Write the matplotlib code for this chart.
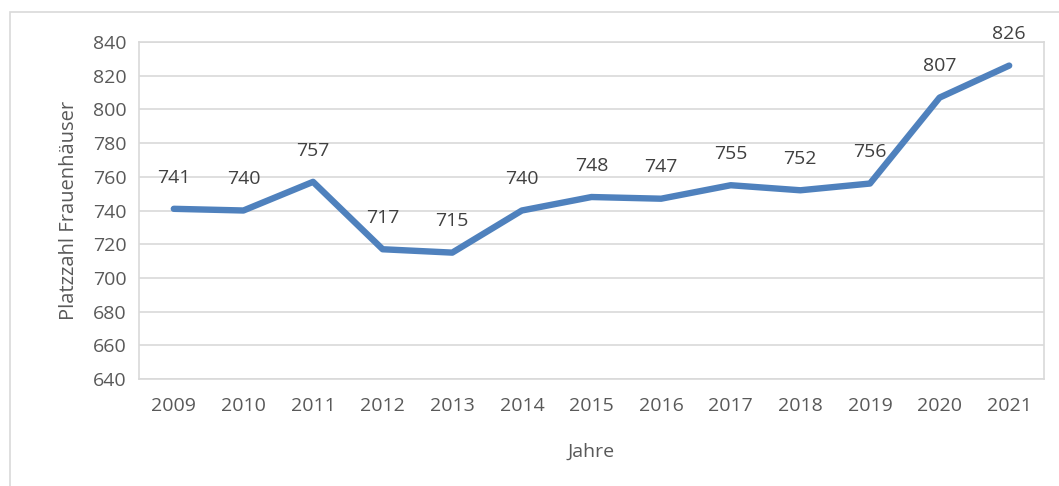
import matplotlib
matplotlib.use("Agg")
import matplotlib.pyplot as plt
from matplotlib.patches import Rectangle

years = ["2009", "2010", "2011", "2012", "2013", "2014", "2015", "2016", "2017", "2018", "2019", "2020", "2021"]
values = [741, 740, 757, 717, 715, 740, 748, 747, 755, 752, 756, 807, 826]
yticks = [640, 660, 680, 700, 720, 740, 760, 780, 800, 820, 840]

plt.rcParams['font.family'] = ['Open Sans', 'DejaVu Sans']
txt = '#595959'
grid = '#d9d9d9'

W, H = 1059, 486
fig = plt.figure(figsize=(W/100, H/100), dpi=100)
fig.patches.append(Rectangle((10/W, -0.1), 1.2, 1 - 12/H + 0.1, transform=fig.transFigure,
                             fill=False, edgecolor=grid, linewidth=1.2))
ax = fig.add_axes([139/W, 1 - 379/H, (1044-139)/W, (379-42)/H])
x = list(range(len(years)))
ax.plot(x, values, color='#4F81BD', linewidth=4.6, solid_capstyle='round', solid_joinstyle='round', zorder=3)
for xi, v in zip(x, values):
    ax.annotate(str(v), (xi, v), xytext=(0, 16), textcoords='offset points',
                ha='center', va='bottom', fontsize=14, color='#404040')
ax.set_xlim(-0.5, len(years) - 0.5)
ax.set_ylim(640, 840)
ax.set_yticks(yticks)
ax.set_xticks(x)
ax.set_xticklabels(years)
ax.yaxis.grid(True, color=grid, linewidth=1.2)
ax.set_axisbelow(True)
for s in ax.spines.values():
    s.set_color(grid)
    s.set_linewidth(1.2)
ax.tick_params(length=0, labelsize=14, colors=txt, pad=9)
ax.tick_params(axis='x', pad=13)
ax.set_ylabel("Platzzahl Frauenhäuser", fontsize=14.5, color=txt, labelpad=10)
ax.set_xlabel("Jahre", fontsize=14, color=txt, labelpad=20)
fig.savefig("out.png", dpi=100)
